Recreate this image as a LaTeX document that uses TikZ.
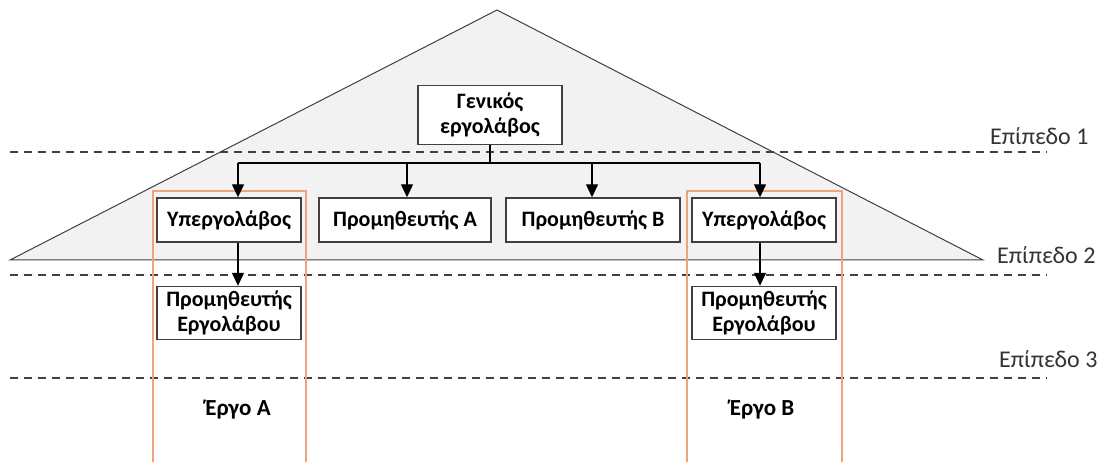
\documentclass[tikz,border=0pt]{standalone}
\usepackage{fontspec}
\setmainfont{Carlito}
\usetikzlibrary{arrows.meta}
\definecolor{linegray}{HTML}{404040}
\definecolor{trifill}{HTML}{F2F2F2}
\definecolor{labelgray}{HTML}{333333}
\definecolor{projorange}{HTML}{EDA47C}
\begin{document}
\begin{tikzpicture}[x=1pt,y=-1pt,
  role/.style={draw=linegray,line width=1.4pt,fill=white,align=center,
    font=\fontsize{22}{25}\selectfont\bfseries,inner sep=0pt,text=black},
  levelline/.style={draw=linegray,line width=1.8pt,dash pattern=on 8pt off 6pt},
  levellabel/.style={anchor=west,font=\fontsize{24}{27}\selectfont,text=labelgray,inner sep=0pt},
  flow/.style={draw=black,line width=1.3pt,-{Triangle[length=13pt,width=12pt]}},
  project/.style={draw=projorange,line width=1.5pt},
  projname/.style={font=\fontsize{23}{26}\selectfont\bfseries,text=black}]
\useasboundingbox (0,0) rectangle (1103,462);

% hierarchy triangle
\filldraw[fill=trifill,draw=linegray,line width=1pt] (10,260) -- (497,10) -- (983,260) -- cycle;

% level separators
\draw[levelline] (10,152) -- (1047,152);
\draw[levelline] (10,275) -- (1047,275);
\draw[levelline] (10,378) -- (1047,378);
\node[levellabel] (lvl1) at (990,136) {Επίπεδο 1};
\node[levellabel] (lvl2) at (997,255) {Επίπεδο 2};
\node[levellabel] (lvl3) at (999,359) {Επίπεδο 3};

% project frames (open at the bottom)
\draw[project] (153,462) -- (153,191) -- (306,191) -- (306,462);
\draw[project] (687,462) -- (687,191) -- (842,191) -- (842,462);
\node[projname] (projA) at (238,410) {Έργο Α};
\node[projname] (projB) at (762,410) {Έργο Β};

% participants
\node[role,minimum width=144pt,minimum height=59pt] (gc) at (490,115) {Γενικός\\εργολάβος};
\node[role,minimum width=144pt,minimum height=44pt] (sub1) at (229,220) {Υπεργολάβος};
\node[role,minimum width=172pt,minimum height=44pt] (supA) at (405,220) {Προμηθευτής Α};
\node[role,minimum width=174pt,minimum height=44pt] (supB) at (593,220) {Προμηθευτής Β};
\node[role,minimum width=144pt,minimum height=44pt] (sub2) at (764,220) {Υπεργολάβος};
\node[role,minimum width=144pt,minimum height=53pt] (cs1) at (229,313) {Προμηθευτής\\Εργολάβου};
\node[role,minimum width=144pt,minimum height=53pt] (cs2) at (764,313) {Προμηθευτής\\Εργολάβου};

% distribution bar
\coordinate (hub) at (490,163);
\coordinate (j1) at (238,163);
\coordinate (j2) at (407,163);
\coordinate (j3) at (592,163);
\coordinate (j4) at (760,163);
\draw[draw=black,line width=1.3pt] (gc.south -| hub) -- (hub);
\draw[draw=black,line width=1.3pt] (j1) -- (j4);
\draw[flow] (j1) -- (j1 |- sub1.north);
\draw[flow] (j2) -- (j2 |- supA.north);
\draw[flow] (j3) -- (j3 |- supB.north);
\draw[flow] (j4) -- (j4 |- sub2.north);
\draw[flow] (sub1.south -| j1) -- (cs1.north -| j1);
\draw[flow] (sub2.south -| j4) -- (cs2.north -| j4);
\end{tikzpicture}
\end{document}
